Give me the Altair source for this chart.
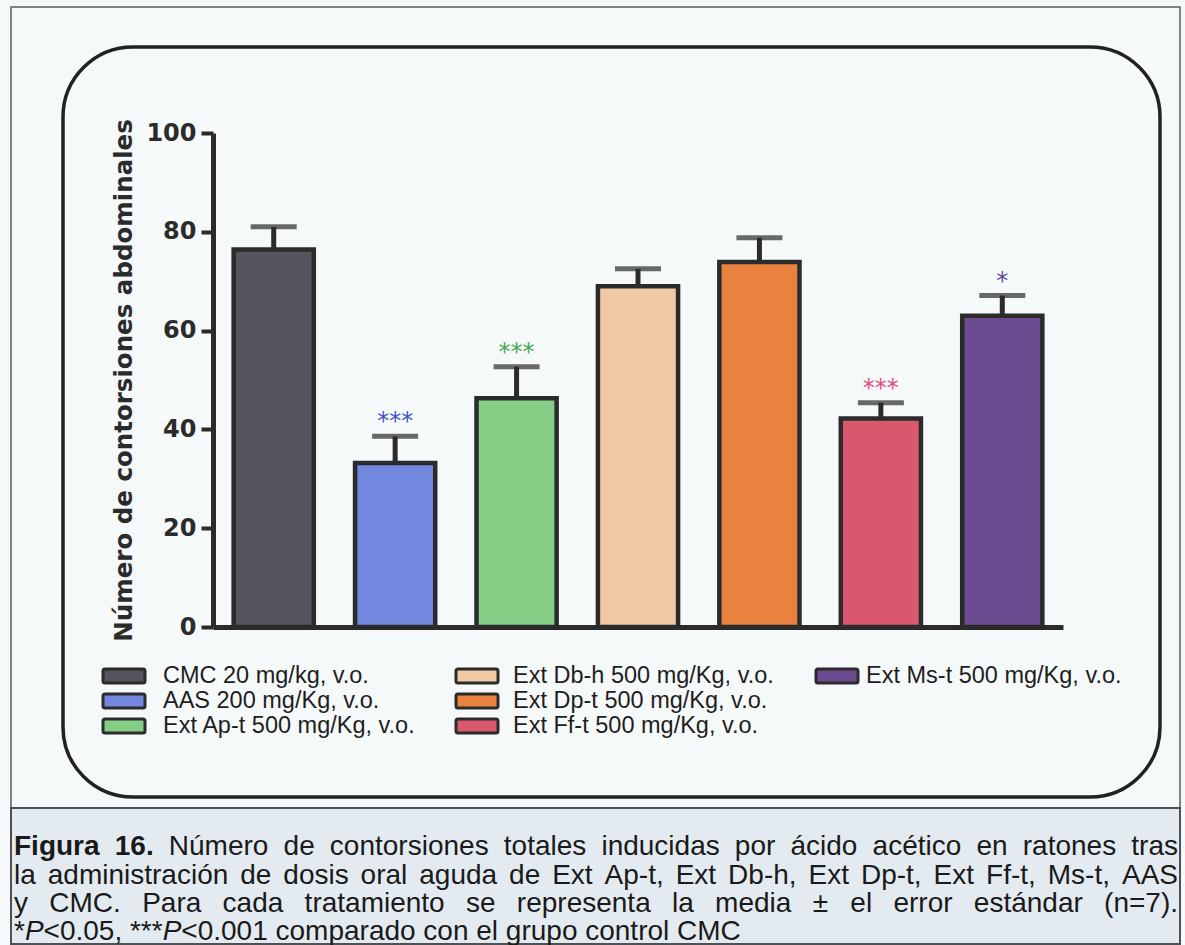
import altair as alt
import pandas as pd

# ---------------------------------------------------------------- data
groups = [
    "CMC 20 mg/kg, v.o.",
    "AAS 200 mg/Kg, v.o.",
    "Ext Ap-t 500 mg/Kg, v.o.",
    "Ext Db-h 500 mg/Kg, v.o.",
    "Ext Dp-t 500 mg/Kg, v.o.",
    "Ext Ff-t 500 mg/Kg, v.o.",
    "Ext Ms-t 500 mg/Kg, v.o.",
]
means = [76.4, 33.2, 46.3, 69.0, 73.9, 42.2, 63.0]
sems = [4.6, 5.4, 6.4, 3.5, 4.9, 3.2, 4.1]
signif = ["", "***", "***", "", "", "***", "*"]
y_ticks = [0, 20, 40, 60, 80, 100]
y_title = "Número de contorsiones abdominales"

caption_lines = [
    [[("Figura", "bold")], [("16.", "bold")], "Número", "de", "contorsiones", "totales",
     "inducidas", "por", "ácido", "acético", "en", "ratones", "tras"],
    "la administración de dosis oral aguda de Ext Ap-t, Ext Db-h, Ext Dp-t, Ext Ff-t, Ms-t, AAS".split(),
    "y CMC. Para cada tratamiento se representa la media ± el error estándar (n=7).".split(),
    [[("*", "normal"), ("P", "italic"), ("<0.05,", "normal")],
     [("***", "normal"), ("P", "italic"), ("<0.001", "normal")],
     "comparado", "con", "el", "grupo", "control", "CMC"],
]
caption_justified = [True, True, True, False]

# ---------------------------------------------------------------- styles
bar_palette = ["#55545f", "#7387df", "#84ce85", "#f1c9a3", "#e9823f", "#d9586d", "#6d4b91"]
star_palette = ["#222222", "#3f4fd0", "#45a84d", "#222222", "#222222", "#e24b7c", "#5f4c9f"]
INK = "#2b2b2b"
PAGE_BG = "#f6f9fa"
CAPTION_BG = "#e4ebf0"

# page / plot geometry (pixels)
PAGE_W, PAGE_H = 1185, 945
LEFT, TOP = 213, 133
W, H = 850, 494

# legend layout: 3 columns, filled top to bottom
LEG_COLS = [0, 0, 0, 1, 1, 1, 2]
LEG_ROWS = [0, 1, 2, 0, 1, 2, 0]
LEG_SYM_X = [103, 456, 816]
LEG_TXT_X = [163, 513, 866]
LEG_ROW_Y = [676, 701, 726]
LEG_SYM_W, LEG_SYM_H = 42, 14
LEG_SIZE = 23.5

# caption layout
CAP_L, CAP_R = 14, 1178
CAP_BASE = [855, 883.5, 912, 940]
CAP_SIZE = 28

# Arial / Liberation Sans advance widths (1/1000 em)
ARIAL = {" ": 278, "(": 333, ")": 333, "*": 389, ",": 278, "-": 333, ".": 278, "/": 278,
         "<": 584, "=": 584, "±": 584,
         "A": 667, "C": 722, "D": 722, "E": 667, "F": 611, "K": 667, "M": 833, "N": 722,
         "P": 667, "S": 667,
         "a": 556, "b": 556, "c": 500, "d": 556, "e": 556, "f": 278, "g": 556, "h": 556,
         "i": 222, "k": 500, "l": 222, "m": 833, "n": 556, "o": 556, "p": 556, "r": 333,
         "s": 500, "t": 278, "u": 556, "v": 500, "x": 500, "y": 500,
         "á": 556, "é": 556, "ó": 556, "ú": 556}
ARIAL_BOLD = {"F": 611, "i": 278, "g": 611, "u": 611, "r": 389, "a": 556, ".": 278}


def run_width(text, style):
    total = 0
    for ch in text:
        if ch.isdigit():
            total += 556
        elif style == "bold":
            total += ARIAL_BOLD.get(ch, ARIAL.get(ch, 556))
        else:
            total += ARIAL.get(ch, 556)
    return total * CAP_SIZE / 1000.0


def layout_caption():
    rows = []
    space = ARIAL[" "] * CAP_SIZE / 1000.0
    for li, line in enumerate(caption_lines):
        words = [w if isinstance(w, list) else [(w, "normal")] for w in line]
        widths = [sum(run_width(t, s) for t, s in w) for w in words]
        if caption_justified[li]:
            gap = (CAP_R - CAP_L - sum(widths)) / (len(words) - 1)
        else:
            gap = space
        x = CAP_L
        for w, wd in zip(words, widths):
            xr = x
            for t, s in w:
                rows.append({"t": t, "style": s, "x": xr - LEFT, "y": CAP_BASE[li] - TOP})
                xr += run_width(t, s)
            x += wd + gap
    return pd.DataFrame(rows)


# ---------------------------------------------------------------- tables
df = pd.DataFrame({"group": groups, "mean": means, "sem": sems, "sig": signif})
df["upper"] = df["mean"] + df["sem"]

leg = pd.DataFrame({"group": groups, "col": LEG_COLS, "row": LEG_ROWS})
leg["sx"] = [LEG_SYM_X[c] - LEFT for c in leg["col"]]
leg["sx2"] = leg["sx"] + LEG_SYM_W
leg["sy"] = [LEG_ROW_Y[r] - TOP - LEG_SYM_H / 2 for r in leg["row"]]
leg["sy2"] = leg["sy"] + LEG_SYM_H
leg["tx"] = [LEG_TXT_X[c] - LEFT for c in leg["col"]]
leg["ty"] = [LEG_ROW_Y[r] - TOP for r in leg["row"]]

cap = layout_caption()
one = pd.DataFrame({"k": [0]})


def frame(x0, x1, y0, y1, **kw):
    return alt.Chart(one).mark_rect(**kw).encode(
        x=alt.value(x0 - LEFT), x2=alt.value(x1 - LEFT),
        y=alt.value(y0 - TOP), y2=alt.value(y1 - TOP))


# ---------------------------------------------------------------- page frames
outer = frame(11, 1180, 7, 944, filled=False, stroke="#5a5e63", strokeWidth=1.5)
caption_box = frame(11, 1180, 808, 944, fill=CAPTION_BG, stroke="#4d5156", strokeWidth=2)
rounded = frame(63, 1160, 47, 797, filled=False, stroke="#222222", strokeWidth=3.5,
                cornerRadius=70)

# ---------------------------------------------------------------- bar chart
x_enc = alt.X("group:N", sort=groups,
              scale=alt.Scale(paddingInner=0.34, paddingOuter=0.17),
              axis=alt.Axis(labels=False, ticks=False, title=None, grid=False,
                            domainColor=INK, domainWidth=5))
y_scale = alt.Scale(domain=[0, 100], nice=False)

bars = alt.Chart(df).mark_bar(stroke=INK, strokeWidth=4.5).encode(
    x=x_enc,
    y=alt.Y("mean:Q", scale=y_scale,
            axis=alt.Axis(values=y_ticks, title=y_title, grid=False,
                          domainColor=INK, domainWidth=5,
                          tickColor=INK, tickWidth=4, tickSize=12,
                          labelFont="DejaVu Sans", labelFontWeight="bold",
                          labelFontSize=24, labelColor=INK, labelPadding=5,
                          titleFont="DejaVu Sans", titleFontWeight="bold",
                          titleFontSize=24.5, titleColor=INK, titlePadding=9)),
    fill=alt.Fill("group:N", scale=alt.Scale(domain=groups, range=bar_palette), legend=None),
)

err = alt.Chart(df).mark_rule(color=INK, strokeWidth=5).encode(
    x=alt.X("group:N", sort=groups), y="mean:Q", y2="upper:Q")

caps = alt.Chart(df).mark_tick(color=INK, size=46, thickness=5).encode(
    x=alt.X("group:N", sort=groups), y="upper:Q")

stars = alt.Chart(df).mark_text(font="DejaVu Sans", fontSize=24, baseline="alphabetic",
                                dy=-7).encode(
    x=alt.X("group:N", sort=groups), y="upper:Q", text="sig:N",
    color=alt.Color("group:N", scale=alt.Scale(domain=groups, range=star_palette),
                    legend=None))

plot = alt.layer(err, bars, caps, stars)

# ---------------------------------------------------------------- legend
leg_text = alt.Chart(leg).mark_text(font="Liberation Sans", fontSize=LEG_SIZE, align="left",
                                    baseline="middle", color="#1e1e1e").encode(
    x=alt.X("tx:Q", scale=None, axis=None), y=alt.Y("ty:Q", scale=None, axis=None),
    text="group:N")

leg_sym = alt.Chart(leg).mark_rect(stroke=INK, strokeWidth=3, cornerRadius=2).encode(
    x=alt.X("sx:Q", scale=None, axis=None), x2="sx2:Q",
    y=alt.Y("sy:Q", scale=None, axis=None), y2="sy2:Q",
    fill=alt.Fill("group:N", scale=alt.Scale(domain=groups, range=bar_palette), legend=None))

# ---------------------------------------------------------------- caption


def caption_layer(style, weight, font_style):
    return alt.Chart(cap).transform_filter(alt.datum.style == style).mark_text(
        font="Liberation Sans", fontSize=CAP_SIZE, align="left", baseline="alphabetic",
        fontWeight=weight, fontStyle=font_style, color="#1a1a1a").encode(
        x=alt.X("x:Q", scale=None, axis=None), y=alt.Y("y:Q", scale=None, axis=None),
        text="t:N")


caption = alt.layer(caption_layer("normal", "normal", "normal"),
                    caption_layer("bold", "bold", "normal"),
                    caption_layer("italic", "normal", "italic"))

chart = alt.layer(
    outer, caption_box, rounded, plot, leg_text, leg_sym, caption
).resolve_scale(
    x="independent", y="independent", fill="independent", color="independent"
).properties(
    width=W, height=H,
    autosize=alt.AutoSizeParams(type="none"),
    padding={"left": LEFT, "top": TOP, "right": PAGE_W - LEFT - W, "bottom": PAGE_H - TOP - H},
).configure(
    background=PAGE_BG
).configure_view(
    strokeWidth=0
)

chart.save("out.html", embed_options={"renderer": "svg", "actions": False})
